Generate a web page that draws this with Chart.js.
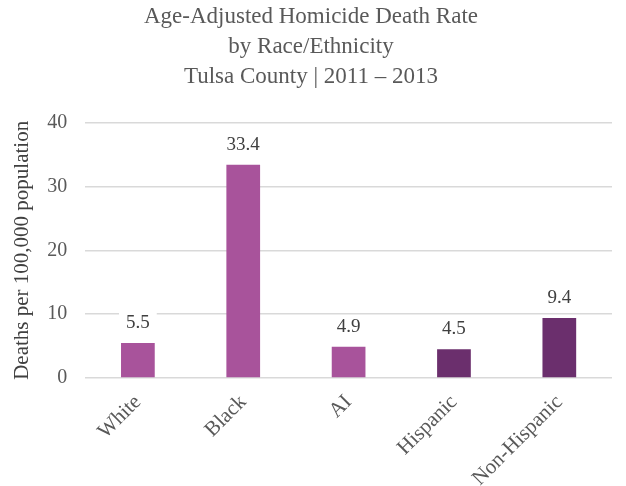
<!DOCTYPE html>
<html>
<head>
<meta charset="utf-8">
<script src="https://cdn.jsdelivr.net/npm/chart.js@4/dist/chart.umd.min.js"></script>
<style>
  html, body { margin: 0; padding: 0; background: #fff; }
  #wrap { width: 626px; height: 486px; }
</style>
</head>
<body>
<div id="wrap"><canvas id="grafico"></canvas></div>
<script>
/* Datos */
var categorias = ['White', 'Black', 'AI', 'Hispanic', 'Non-Hispanic'];
var tasas = [5.5, 33.4, 4.9, 4.5, 9.4];
var colores = ['#A8539B', '#A8539B', '#A8539B', '#6B2F6D', '#6B2F6D'];
var titulo = ['Age-Adjusted Homicide Death Rate', 'by Race/Ethnicity', 'Tulsa County | 2011 \u2013 2013'];
var tituloEje = 'Deaths per 100,000 population';

var gris = '#595959';
var fuente = "'Liberation Serif', 'Times New Roman', serif";

/* Etiquetas sobre las barras con fondo blanco */
var etiquetas = {
    id: 'etiquetas',
    afterDatasetsDraw: function (chart) {
        var ctx = chart.ctx;
        var meta = chart.getDatasetMeta(0);
        ctx.save();
        ctx.font = '19px ' + fuente;
        ctx.textAlign = 'center';
        ctx.textBaseline = 'middle';
        meta.data.forEach(function (bar, i) {
            var txt = tasas[i].toFixed(1);
            var y = bar.y - 20;
            var w = ctx.measureText(txt).width + 14;
            ctx.fillStyle = '#fff';
            ctx.fillRect(bar.x - w / 2, y - 11, w, 22);
            ctx.fillStyle = '#404040';
            ctx.fillText(txt, bar.x, y);
        });
        ctx.restore();
    }
};

var marco = document.getElementById('grafico').getContext('2d');

var grafico = new Chart(marco, {
    type: 'bar',
    data: {
        labels: categorias,
        datasets: [{
            data: tasas,
            backgroundColor: colores,
            borderWidth: 0,
            barPercentage: 0.32,
            categoryPercentage: 1
        }]
    },
    options: {
        responsive: true,
        maintainAspectRatio: false,
        animation: false,
        layout: { padding: { top: 2, right: 14, left: 10, bottom: 0 } },
        plugins: {
            legend: { display: false },
            tooltip: { enabled: false },
            title: {
                display: true,
                text: titulo,
                color: gris,
                font: { family: fuente, size: 23, weight: 'normal', lineHeight: 1.3 },
                padding: { top: 0, bottom: 31 }
            }
        },
        scales: {
            y: {
                min: 0,
                max: 40,
                ticks: {
                    stepSize: 10,
                    color: gris,
                    padding: 18,
                    font: { family: fuente, size: 20 }
                },
                grid: { color: '#D9D9D9', lineWidth: 1.5, drawTicks: false },
                border: { display: false },
                title: {
                    display: true,
                    text: tituloEje,
                    color: '#404040',
                    font: { family: fuente, size: 21 },
                    padding: { top: 0, bottom: -6 }
                }
            },
            x: {
                afterFit: function (escala) { escala.height = 108; },
                ticks: {
                    color: gris,
                    maxRotation: 45,
                    minRotation: 45,
                    padding: 4,
                    font: { family: fuente, size: 21 }
                },
                grid: { display: false },
                border: { display: false }
            }
        }
    },
    plugins: [etiquetas]
});
</script>
</body>
</html>
